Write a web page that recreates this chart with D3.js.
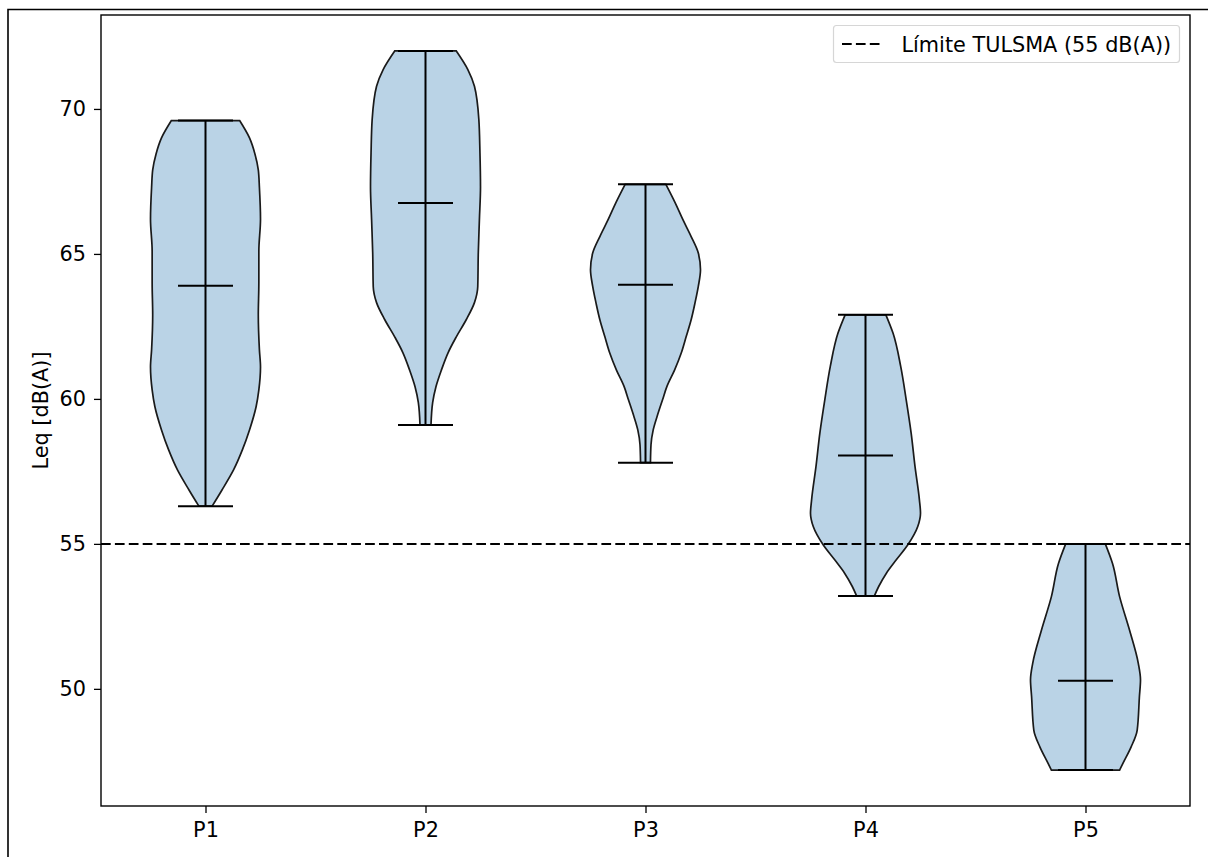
<!DOCTYPE html>
<html>
<head>
<meta charset="utf-8">
<script src="https://cdn.jsdelivr.net/npm/d3@7"></script>
<style>
  html, body { margin: 0; padding: 0; background: #fff; }
  svg { display: block; }
  text { font-family: "DejaVu Sans", sans-serif; fill: #000; }
</style>
</head>
<body>
<script>
// Noise levels (Leq, dB(A)) per measuring point
const categories = ["P1", "P2", "P3", "P4", "P5"];
const medians = [63.9, 66.76, 63.94, 58.05, 50.28];
const minima  = [56.3, 59.1, 57.8, 53.2, 47.2];
const maxima  = [69.6, 72.0, 67.4, 62.9, 55.0];
const yTicks = [50, 55, 60, 65, 70];
const limitValue = 55;
const limitLabel = "Límite TULSMA (55 dB(A))";
const yLabel = "Leq [dB(A)]";

// Kernel density profiles: [level, density relative to each violin's peak]
const densityP1 = [[69.6,0.62],[69.0,0.80],[68.44,0.90],[67.9,0.96],[67.3,0.98],[66.2,1.0],[65.1,0.97],[64.0,0.97],[62.9,0.96],[61.7,0.98],[61.1,1.0],[60.31,0.97],[59.73,0.92],[58.93,0.80],[58.24,0.67],[57.55,0.51],[56.86,0.30],[56.3,0.12]];
const densityP2 = [[72.0,0.56],[71.36,0.77],[70.78,0.89],[69.63,0.97],[68.49,0.99],[67.32,1.0],[66.18,0.98],[65.04,0.96],[63.87,0.95],[63.32,0.89],[62.73,0.74],[62.14,0.56],[61.59,0.41],[61.0,0.29],[60.42,0.19],[59.87,0.13],[59.1,0.10]];
const densityP3 = [[67.4,0.37],[66.76,0.54],[66.18,0.68],[65.6,0.83],[65.03,0.96],[64.45,1.0],[63.88,0.96],[63.31,0.90],[62.73,0.83],[62.15,0.74],[61.58,0.65],[61.0,0.53],[60.43,0.39],[59.97,0.31],[59.45,0.22],[58.93,0.14],[58.42,0.10],[57.8,0.09]];
const densityP4 = [[62.9,0.37],[62.27,0.50],[61.12,0.64],[59.97,0.74],[58.82,0.83],[57.67,0.90],[56.52,0.98],[56.06,1.0],[55.6,0.95],[54.97,0.77],[54.45,0.56],[53.99,0.38],[53.53,0.24],[53.2,0.16]];
const densityP5 = [[55.0,0.36],[54.33,0.49],[53.18,0.62],[52.03,0.80],[50.88,0.96],[50.31,1.0],[49.73,0.98],[48.58,0.94],[48.0,0.83],[47.43,0.68],[47.2,0.62]];
const densities = [densityP1, densityP2, densityP3, densityP4, densityP5];

const W = 1208, H = 857;
const plot = { left: 101, right: 1190, top: 15, bottom: 806 };
const violinWidth = 0.5;
const fontSize = 20.8;

const svg = d3.select("body").append("svg").attr("width", W).attr("height", H);

// outer frame (top and left edges)
svg.append("path")
  .attr("d", `M8,857 L8,9.5 L1208,9.5`)
  .attr("fill", "none").attr("stroke", "#000").attr("stroke-width", 1.6);

const x = d3.scaleLinear().domain([0.525, 5.475]).range([plot.left, plot.right]);
const lo = d3.min(minima), hi = d3.max(maxima), pad = (hi - lo) * 0.05;
const y = d3.scaleLinear().domain([lo - pad, hi + pad]).range([plot.bottom, plot.top]);

const g = svg.append("g");

// violin bodies
const halfW = d => x(1 + violinWidth / 2 * d) - x(1);
categories.forEach((c, i) => {
  const pos = i + 1;
  const area = d3.area()
    .y(d => y(d[0]))
    .x0(d => x(pos) - halfW(d[1]))
    .x1(d => x(pos) + halfW(d[1]))
    .curve(d3.curveMonotoneY);
  g.append("path")
    .datum(densities[i])
    .attr("d", area)
    .attr("fill", "#bad3e6")
    .attr("stroke", "#1a1a1a")
    .attr("stroke-width", 1.7);
});

// extrema bars, vertical range line and medians
const capHalf = x(1 + violinWidth / 4) - x(1);
categories.forEach((c, i) => {
  const cx = x(i + 1);
  const line = (x1, y1, x2, y2) => g.append("line")
    .attr("x1", x1).attr("y1", y1).attr("x2", x2).attr("y2", y2)
    .attr("stroke", "#000").attr("stroke-width", 2);
  line(cx, y(minima[i]), cx, y(maxima[i]));
  line(cx - capHalf, y(maxima[i]), cx + capHalf, y(maxima[i]));
  line(cx - capHalf, y(minima[i]), cx + capHalf, y(minima[i]));
  line(cx - capHalf, y(medians[i]), cx + capHalf, y(medians[i]));
});

// regulatory limit
g.append("line")
  .attr("x1", plot.left).attr("x2", plot.right)
  .attr("y1", y(limitValue)).attr("y2", y(limitValue))
  .attr("stroke", "#000").attr("stroke-width", 2)
  .attr("stroke-dasharray", "9.7,4.2");

// axes
const yAxis = svg.append("g").attr("transform", `translate(${plot.left},0)`)
  .call(d3.axisLeft(y).tickValues(yTicks).tickSize(7).tickPadding(8).tickFormat(d3.format("d")));
const xAxis = svg.append("g").attr("transform", `translate(0,${plot.bottom})`)
  .call(d3.axisBottom(x).tickValues(categories.map((c, i) => i + 1)).tickSize(7).tickPadding(9)
    .tickFormat((d, i) => categories[i]));
[yAxis, xAxis].forEach(a => {
  a.select(".domain").remove();
  a.selectAll(".tick line").attr("stroke", "#000").attr("stroke-width", 1.3);
  a.selectAll(".tick text").attr("font-size", fontSize).attr("font-family", "DejaVu Sans").attr("fill", "#000");
});

// axes frame
svg.append("rect")
  .attr("x", plot.left).attr("y", plot.top)
  .attr("width", plot.right - plot.left).attr("height", plot.bottom - plot.top)
  .attr("fill", "none").attr("stroke", "#000").attr("stroke-width", 1.4);

// y label
svg.append("text")
  .attr("transform", `translate(48,${(plot.top + plot.bottom) / 2}) rotate(-90)`)
  .attr("text-anchor", "middle")
  .attr("font-size", fontSize)
  .text(yLabel);

// legend
const legend = svg.append("g");
legend.append("rect")
  .attr("x", 833.5).attr("y", 25.5).attr("width", 346).attr("height", 37)
  .attr("rx", 3).attr("fill", "#fff").attr("fill-opacity", 0.8)
  .attr("stroke", "#d6d6d6").attr("stroke-width", 1.2);
legend.append("line")
  .attr("x1", 842).attr("x2", 883).attr("y1", 44).attr("y2", 44)
  .attr("stroke", "#000").attr("stroke-width", 2)
  .attr("stroke-dasharray", "9.7,4.2");
legend.append("text")
  .attr("x", 901.5).attr("y", 51.5)
  .attr("font-size", fontSize)
  .text(limitLabel);
</script>
</body>
</html>
